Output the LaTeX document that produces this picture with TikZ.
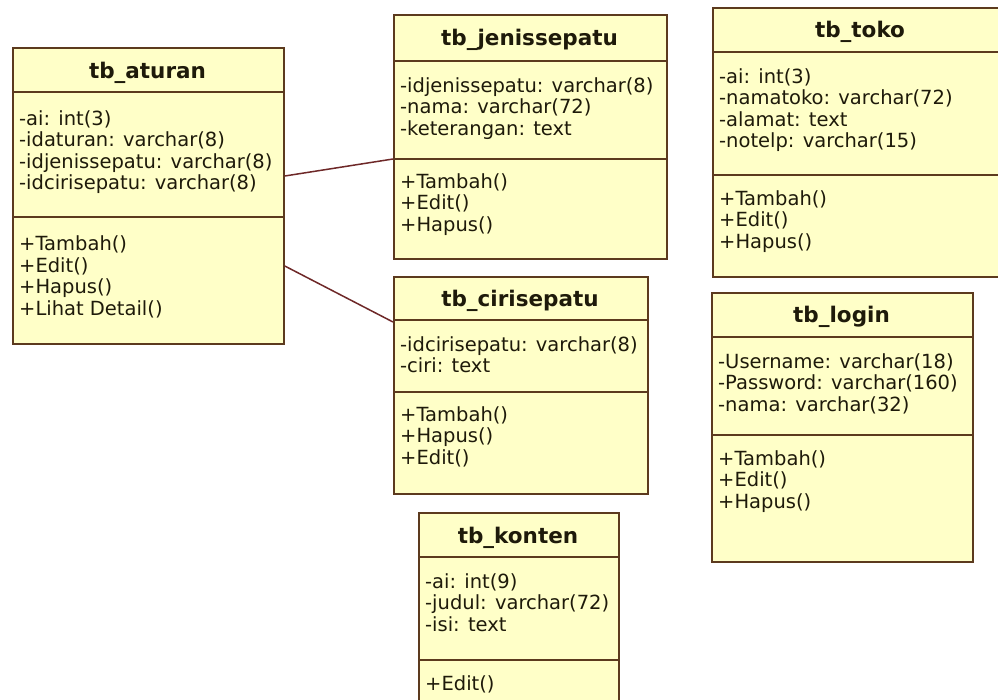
\documentclass[tikz,border=0pt]{standalone}
\usepackage{fontspec}
\setmainfont{DejaVu Sans}
\usetikzlibrary{calc}

\definecolor{classfill}{RGB}{255,255,200}
\definecolor{classline}{RGB}{92,58,30}
\definecolor{classtext}{RGB}{30,26,10}
\definecolor{linkline}{RGB}{110,40,40}

% member lists are placed by the baseline of their last line
\tikzset{
  classbox/.style={rectangle, draw=classline, line width=1.8pt, fill=classfill,
    inner sep=0pt, anchor=north west},
  sepline/.style={draw=classline, line width=1.8pt},
  classtitle/.style={anchor=base, inner sep=0pt, text=classtext,
    font=\fontsize{21.5}{24}\selectfont\bfseries},
  members/.style={anchor=base west, inner sep=0pt, align=left, text=classtext,
    font=\fontsize{19.5}{21.5}\selectfont},
  link/.style={draw=linkline, line width=1.5pt},
}

\begin{document}
\begin{tikzpicture}[x=1pt,y=-1pt]
\useasboundingbox (0,0) rectangle (998,699);
\fill[white] (0,0) rectangle (998,699);
\clip (0,0) rectangle (998,699);

% tb_aturan
\node[classbox, minimum width=271pt, minimum height=296pt] (aturan) at (12,47) {};
\draw[sepline] (aturan.west |- 0,92) -- (aturan.east |- 0,92);
\draw[sepline] (aturan.west |- 0,217) -- (aturan.east |- 0,217);
\node[classtitle] (aturan-title) at (147.5,78) {tb\_aturan};
\node[members] (aturan-attr) at (19,189.5)
  {-ai: int(3)\\-idaturan: varchar(8)\\-idjenissepatu: varchar(8)\\-idcirisepatu: varchar(8)};
\node[members] (aturan-op) at (19,315)
  {+Tambah()\\+Edit()\\+Hapus()\\+Lihat Detail()};

% tb_jenissepatu
\node[classbox, minimum width=273pt, minimum height=244pt] (jenis) at (393,14) {};
\draw[sepline] (jenis.west |- 0,61) -- (jenis.east |- 0,61);
\draw[sepline] (jenis.west |- 0,159) -- (jenis.east |- 0,159);
\node[classtitle] (jenis-title) at (529.5,45.5) {tb\_jenissepatu};
\node[members] (jenis-attr) at (400,135)
  {-idjenissepatu: varchar(8)\\-nama: varchar(72)\\-keterangan: text};
\node[members] (jenis-op) at (400,231)
  {+Tambah()\\+Edit()\\+Hapus()};

% tb_cirisepatu
\node[classbox, minimum width=254pt, minimum height=217pt] (ciri) at (393,276) {};
\draw[sepline] (ciri.west |- 0,320) -- (ciri.east |- 0,320);
\draw[sepline] (ciri.west |- 0,392) -- (ciri.east |- 0,392);
\node[classtitle] (ciri-title) at (520,306) {tb\_cirisepatu};
\node[members] (ciri-attr) at (400,372.5)
  {-idcirisepatu: varchar(8)\\-ciri: text};
\node[members] (ciri-op) at (400,464)
  {+Tambah()\\+Hapus()\\+Edit()};

% tb_konten
\node[classbox, minimum width=200pt, minimum height=220pt] (konten) at (418,512) {};
\draw[sepline] (konten.west |- 0,557) -- (konten.east |- 0,557);
\draw[sepline] (konten.west |- 0,660) -- (konten.east |- 0,660);
\node[classtitle] (konten-title) at (518,543) {tb\_konten};
\node[members] (konten-attr) at (425,631)
  {-ai: int(9)\\-judul: varchar(72)\\-isi: text};
\node[members] (konten-op) at (425,690) {+Edit()};

% tb_toko
\node[classbox, minimum width=296pt, minimum height=269pt] (toko) at (712,7) {};
\draw[sepline] (toko.west |- 0,52) -- (toko.east |- 0,52);
\draw[sepline] (toko.west |- 0,175) -- (toko.east |- 0,175);
\node[classtitle] (toko-title) at (860,37.5) {tb\_toko};
\node[members] (toko-attr) at (719,147.5)
  {-ai: int(3)\\-namatoko: varchar(72)\\-alamat: text\\-notelp: varchar(15)};
\node[members] (toko-op) at (719,248)
  {+Tambah()\\+Edit()\\+Hapus()};

% tb_login
\node[classbox, minimum width=261pt, minimum height=269pt] (login) at (711,292) {};
\draw[sepline] (login.west |- 0,337) -- (login.east |- 0,337);
\draw[sepline] (login.west |- 0,435) -- (login.east |- 0,435);
\node[classtitle] (login-title) at (841.5,322.5) {tb\_login};
\node[members] (login-attr) at (718,411)
  {-Username: varchar(18)\\-Password: varchar(160)\\-nama: varchar(32)};
\node[members] (login-op) at (718,508)
  {+Tambah()\\+Edit()\\+Hapus()};

% associations
\draw[link] ($(aturan.north east)+(0,129)$) -- ($(jenis.north west)+(0,145)$);
\draw[link] ($(aturan.north east)+(0,219)$) -- ($(ciri.north west)+(0,46)$);
\end{tikzpicture}
\end{document}
